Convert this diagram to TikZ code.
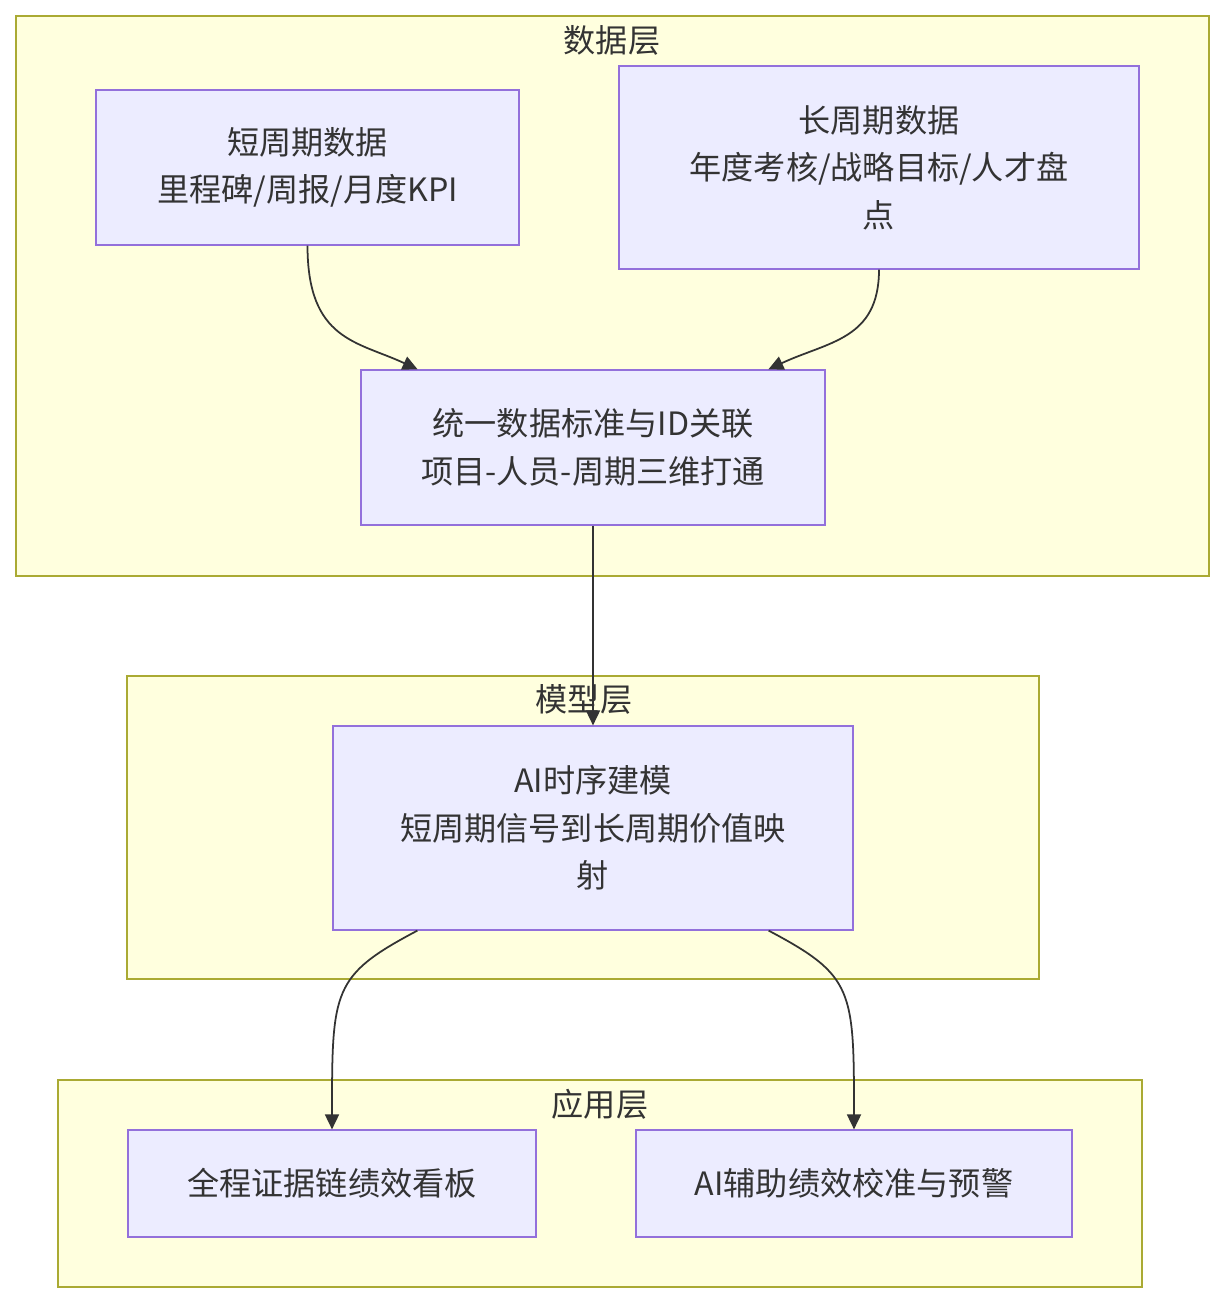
\documentclass[tikz,border=0pt]{standalone}
\usepackage{fontspec}
\setmainfont{Noto Sans CJK SC}
\usetikzlibrary{arrows.meta,positioning,calc}
\definecolor{layerfill}{HTML}{FFFFDE}
\definecolor{layerdraw}{HTML}{AAAA33}
\definecolor{nodefill}{HTML}{ECECFF}
\definecolor{nodedraw}{HTML}{9370DB}
\definecolor{darktext}{HTML}{333333}

\begin{document}
\begin{tikzpicture}[
    x=0.02cm, y=-0.02cm,
    layer/.style={draw=layerdraw, fill=layerfill, line width=0.7pt},
    layertitle/.style={text=darktext, font=\fontsize{18.3}{22}\selectfont},
    box/.style={rectangle, draw=nodedraw, fill=nodefill, line width=0.7pt, align=center, inner sep=0pt, text=darktext, font=\fontsize{18.3}{27}\selectfont},
    arrow/.style={-{Triangle[length=3mm, width=2.8mm]}, line width=1pt, draw=darktext},
]
    \useasboundingbox (0,0) rectangle (1224,1304);

    % Layers
    \draw[layer] (16,16) rectangle (1209,576);
    \node[layertitle] (datatitle) at (612,40) {数据层};
    \draw[layer] (127,676) rectangle (1039,979);
    \node[layertitle] (modeltitle) at (584,699) {模型层};
    \draw[layer] (58,1080) rectangle (1142,1287);
    \node[layertitle] (apptitle) at (600,1104) {应用层};

    % Data layer
    \node[box, minimum width=8.46cm, minimum height=3.1cm] (short) at (307.5,167.5) {短周期数据\\里程碑/周报/月度KPI};
    \node[box, minimum width=10.4cm, minimum height=4.06cm] (long) at (879,167.5) {长周期数据\\年度考核/战略目标/人才盘\\点};
    \node[box, minimum width=9.28cm, minimum height=3.1cm] (unify) at (593,447.5) {统一数据标准与ID关联\\项目-人员-周期三维打通};

    % Model layer
    \node[box, minimum width=10.4cm, minimum height=4.08cm] (aimodel) at (593,828) {AI时序建模\\短周期信号到长周期价值映\\射};

    % Application layer
    \node[box, minimum width=8.16cm, minimum height=2.14cm] (board) at (332,1183.5) {全程证据链绩效看板};
    \node[box, minimum width=8.72cm, minimum height=2.14cm] (calib) at (854,1183.5) {AI辅助绩效校准与预警};

    % Anchor points on the edges
    \coordinate (unifyleft) at ($(unify.north west)!0.123!(unify.north east)$);
    \coordinate (unifyright) at ($(unify.north west)!0.877!(unify.north east)$);
    \coordinate (aileft) at ($(aimodel.south west)!0.163!(aimodel.south east)$);
    \coordinate (airight) at ($(aimodel.south west)!0.837!(aimodel.south east)$);

    % Arrows
    \draw[arrow] (short.south) .. controls +(0,95) and +(-60,-28) .. (unifyleft);
    \draw[arrow] (long.south) .. controls +(0,70) and +(60,-28) .. (unifyright);
    \draw[arrow] (unify.south) -- (aimodel.north);
    \draw[arrow] (aileft) .. controls +(-85,45) and +(0,-140) .. (board.north);
    \draw[arrow] (airight) .. controls +(85,45) and +(0,-140) .. (calib.north);
\end{tikzpicture}
\end{document}
